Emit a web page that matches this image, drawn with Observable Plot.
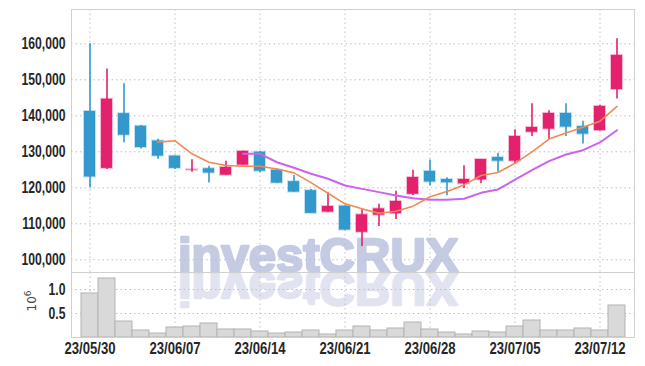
<!DOCTYPE html>
<html>
<head>
<meta charset="utf-8">
<script src="https://cdn.jsdelivr.net/npm/d3@7"></script>
<script src="https://cdn.jsdelivr.net/npm/@observablehq/plot@0.6"></script>
<style>
  html, body { margin: 0; padding: 0; background: #fff; }
  #wrap { position: relative; width: 645px; height: 366px; overflow: hidden; }
  #wm, #charts { position: absolute; left: 0; top: 0; }
  #charts svg { display: block; background: transparent; }
</style>
</head>
<body>
<div id="wrap">
  <svg id="wm" width="645" height="366"></svg>
  <div id="charts"></div>
</div>
<script>
const dates = ["23/05/30","23/05/31","23/06/01","23/06/02","23/06/05","23/06/07","23/06/08","23/06/09","23/06/12","23/06/13","23/06/14","23/06/15","23/06/16","23/06/19","23/06/20","23/06/21","23/06/22","23/06/23","23/06/26","23/06/27","23/06/28","23/06/29","23/06/30","23/07/03","23/07/04","23/07/05","23/07/06","23/07/07","23/07/10","23/07/11","23/07/12","23/07/13"];
const openP  = [141200,125400,140600,137100,133000,128800,124900,125300,123500,126300,129900,124900,121700,119200,113250,114900,107650,112400,112800,118200,124550,122300,121100,122200,128400,127400,135450,136300,140650,137000,135900,147300];
const closeP = [123000,144600,134600,131200,128800,125400,125000,124100,125650,130100,124600,121300,118800,112900,114800,108250,112500,114150,116200,122850,121600,121400,122300,127850,127400,134250,136750,140650,136850,134900,142600,156750];
const highP  = [160000,153000,148900,137300,133500,128800,127800,126000,127400,130200,130100,125200,123400,119500,118600,115000,114050,115450,119050,124900,127700,122800,126100,127850,129600,136100,143350,141400,143350,138500,142850,161400];
const lowP   = [120000,125100,132500,130800,127950,125100,124300,121300,123500,126200,124150,121200,118750,112900,113200,108200,103700,109250,111200,117850,120550,117800,119800,121100,124350,126650,134250,133500,134250,132200,135800,144700];
const ma5  = [null,null,null,null,132700,133050,129450,127100,126200,126000,126000,125200,124150,121450,118500,115550,114150,112950,113500,114900,117500,119000,120800,123400,124250,126800,130000,133550,135250,136850,138500,142600];
const ma10 = [null,null,null,null,null,null,null,null,null,129450,129450,127100,125550,123900,122500,120650,119700,118800,117850,117100,116650,116650,116950,118600,119550,122250,124900,127400,129250,130450,132600,136000];
const volume = [0.917,1.229,0.333,0.146,0.083,0.208,0.229,0.292,0.167,0.167,0.125,0.083,0.104,0.146,0.0625,0.146,0.229,0.146,0.1875,0.3125,0.167,0.104,0.0625,0.125,0.104,0.229,0.354,0.146,0.146,0.1875,0.146,0.667];
const priceTicks = [100000,110000,120000,130000,140000,150000,160000];
const volTicks = [0.5, 1.0];
const dateTicks = ["23/05/30","23/06/07","23/06/14","23/06/21","23/06/28","23/07/05","23/07/12"];
const watermark = "investCRUX";
const volUnitBase = "10", volUnitExp = "6";

const UP = "#e3216d", DOWN = "#3399cc", MA5C = "#ee8a55", MA10C = "#c964ee";
const GRID = "#babed4";
const FONT = '"Liberation Sans", Arial, sans-serif';

const rows = dates.map((d, i) => ({date: d, open: openP[i], close: closeP[i], high: highP[i], low: lowP[i], vol: volume[i], ma5: ma5[i], ma10: ma10[i]}));
const ups = rows.filter(r => r.close >= r.open);
const downs = rows.filter(r => r.close < r.open);

const common = {
  width: 645, marginLeft: 71, marginRight: 11,
  style: {background: "transparent", fontFamily: FONT, fontSize: "16px", fontWeight: "bold", color: "#262626"}
};
const xScale = {type: "band", domain: dates, padding: 0};
const gridStyle = {stroke: GRID, strokeOpacity: 1, strokeDasharray: "1.5,3", strokeWidth: 1};

const price = Plot.plot({
  ...common,
  height: 272, marginTop: 9, marginBottom: 0,
  x: {...xScale, axis: null},
  y: {domain: [96470, 169530], axis: null},
  marks: [
    Plot.gridY({ticks: priceTicks, ...gridStyle}),
    Plot.gridX({ticks: dateTicks, ...gridStyle}),
    Plot.axisY({ticks: priceTicks, tickSize: 0, tickPadding: 6, tickFormat: d3.format(","), fill: "#262626", label: null, className: "yax"}),
    Plot.frame({stroke: "#d0d0d0"}),
    Plot.ruleX(ups, {x: "date", y1: "low", y2: "high", stroke: UP, strokeWidth: 1.6}),
    Plot.ruleX(downs, {x: "date", y1: "low", y2: "high", stroke: DOWN, strokeWidth: 1.6}),
    Plot.barY(ups, {x: "date", y1: "open", y2: "close", fill: UP, stroke: UP, strokeOpacity: 0.3, strokeWidth: 2, insetLeft: 3, insetRight: 3}),
    Plot.barY(downs, {x: "date", y1: "open", y2: "close", fill: DOWN, stroke: DOWN, strokeOpacity: 0.3, strokeWidth: 2, insetLeft: 3, insetRight: 3}),
    Plot.line(rows.filter(r => r.ma10 != null), {x: "date", y: "ma10", stroke: MA10C, strokeWidth: 2}),
    Plot.line(rows.filter(r => r.ma5 != null), {x: "date", y: "ma5", stroke: MA5C, strokeWidth: 1.6})
  ]
});

const vol = Plot.plot({
  ...common,
  height: 94, marginTop: 0, marginBottom: 29,
  x: {...xScale, axis: null},
  y: {domain: [0, 1.354], axis: null},
  marks: [
    Plot.gridY({ticks: volTicks, ...gridStyle}),
    Plot.gridX({ticks: dateTicks, ...gridStyle}),
    Plot.barY(rows, {x: "date", y: "vol", fill: "#d9d9d9", stroke: "#b3b3b3", strokeWidth: 1}),
    Plot.axisY({ticks: volTicks, tickSize: 0, tickPadding: 6, tickFormat: d3.format(".1f"), fill: "#262626", label: null, className: "yax"}),
    Plot.axisX({ticks: dateTicks, tickSize: 0, tickPadding: 5, fill: "#262626", label: null, className: "xax"}),
    Plot.frame({stroke: "#d0d0d0"})
  ]
});

document.getElementById("charts").append(price, vol);

// narrow the tick labels horizontally (condensed look)
function condense(svg, cls, k) {
  svg.querySelectorAll("g." + cls + " text, g[aria-label^='" + (cls === "xax" ? "x-axis tick label" : "y-axis tick label") + "'] text").forEach(t => {
    const tr = t.getAttribute("transform") || "";
    if (!tr.includes("scale")) t.setAttribute("transform", tr + ` scale(${k},1)`);
  });
}
condense(price, "yax", 0.76);
condense(vol, "yax", 0.76);
condense(vol, "xax", 0.82);

// watermark and volume unit label
const wm = d3.select("#wm");
function wmText(sel) {
  return sel.attr("x", 178).attr("y", 272)
    .attr("font-family", '"Liberation Sans", Arial, sans-serif').attr("font-weight", "bold").attr("font-size", 49)
    .attr("fill", "#c5cbe3").attr("stroke", "#c5cbe3").attr("stroke-width", 2.5).attr("stroke-linejoin", "round");
}
wmText(wm.append("text")).text(watermark);
wmText(wm.append("text")).attr("transform", "translate(0,544) scale(1,-1)").attr("opacity", 0.5).text(watermark);
const ul = wm.append("text").attr("transform", "translate(36,301) rotate(-90)")
  .attr("text-anchor", "middle").attr("font-family", '"DejaVu Sans", sans-serif').attr("font-size", 12).attr("fill", "#444");
ul.append("tspan").text(volUnitBase);
ul.append("tspan").attr("dy", -5).attr("font-size", 9).text(volUnitExp);
</script>
</body>
</html>
